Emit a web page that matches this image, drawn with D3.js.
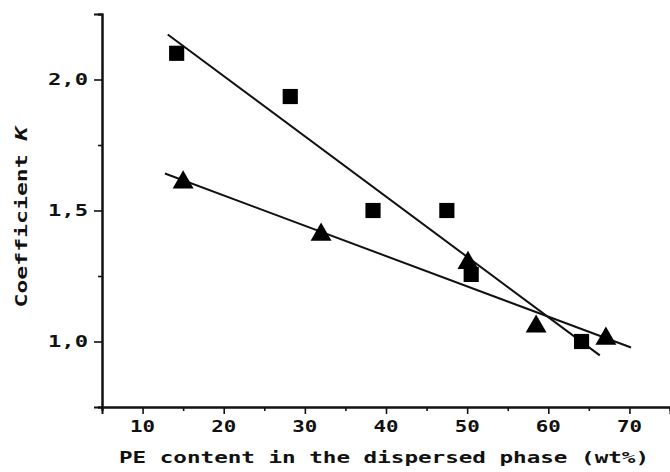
<!DOCTYPE html>
<html><head><meta charset="utf-8">
<script src="https://cdn.jsdelivr.net/npm/d3@7"></script>
<style>
html,body{margin:0;padding:0;background:#fff;}
svg{display:block;}
text{font-family:"DejaVu Sans Mono",monospace;font-weight:bold;fill:#111;}
</style></head>
<body>
<svg id="c" width="670" height="472"></svg>
<script>
// Data
const squareX = [14.2, 28.2, 38.4, 47.5, 50.5, 64.1];
const squareY = [2.10, 1.935, 1.50, 1.50, 1.256, 1.00];
const triangleX = [15.0, 32.0, 50.1, 58.5, 67.1];
const triangleY = [1.607, 1.408, 1.30, 1.057, 1.011];
const squareFitX = [13.1, 66.35];
const squareFitY = [2.172, 0.947];
const triangleFitX = [12.76, 70.2];
const triangleFitY = [1.641, 0.977];
const xMajorTicks = [10, 20, 30, 40, 50, 60, 70];
const xMinorTicks = [5, 15, 25, 35, 45, 55, 65, 75];
const yMajorTicks = [1.0, 1.5, 2.0];
const yTickLabels = ["1,0", "1,5", "2,0"];
const yMinorTicks = [0.75, 1.25, 1.75, 2.25];
const xTitle = "PE content in the dispersed phase (wt%)";

const svg = d3.select("#c");
const x = d3.scaleLinear().domain([5, 75]).range([102, 670]);
const y = d3.scaleLinear().domain([0.75, 2.25]).range([407, 14]);

// Axes
const gx = svg.append("g").attr("transform", `translate(0,${y(0.75)})`);
gx.call(d3.axisBottom(x).tickValues(xMajorTicks).tickSize(7).tickFormat(""));
gx.append("g").call(d3.axisBottom(x).tickValues(xMinorTicks).tickSize(4).tickFormat(""));
gx.selectAll("path.domain").attr("stroke", "#111").attr("stroke-width", 2);
gx.selectAll(".tick line").attr("stroke", "#111").attr("stroke-width", 1.6);

const gy = svg.append("g").attr("transform", `translate(${x(5)},0)`);
gy.call(d3.axisLeft(y).tickValues(yMajorTicks).tickSize(8).tickFormat(""));
gy.append("g").call(d3.axisLeft(y).tickValues(yMinorTicks).tickSize(4).tickFormat(""));
gy.selectAll("path.domain").attr("stroke", "#111").attr("stroke-width", 2);
gy.selectAll(".tick line").attr("stroke", "#111").attr("stroke-width", 1.6);

// Tick labels
svg.append("g").selectAll("text").data(xMajorTicks).join("text")
  .attr("x", d => x(d)).attr("y", 432)
  .attr("text-anchor", "middle")
  .attr("font-size", 15)
  .attr("textLength", 25).attr("lengthAdjust", "spacingAndGlyphs")
  .text(d => d);

svg.append("g").selectAll("text").data(yMajorTicks).join("text")
  .attr("x", 68).attr("y", d => y(d) + 5.5)
  .attr("text-anchor", "middle")
  .attr("font-size", 15)
  .attr("textLength", 40).attr("lengthAdjust", "spacingAndGlyphs")
  .text((d, i) => yTickLabels[i]);

// Axis titles
svg.append("text")
  .attr("x", 384).attr("y", 463)
  .attr("text-anchor", "middle")
  .attr("font-size", 16)
  .attr("textLength", 530).attr("lengthAdjust", "spacingAndGlyphs")
  .text(xTitle);

const yt = svg.append("text")
  .attr("transform", "translate(27,217) rotate(-90)")
  .attr("text-anchor", "middle")
  .attr("font-size", 16)
  .attr("textLength", 181).attr("lengthAdjust", "spacingAndGlyphs");
yt.append("tspan").text("Coefficient ");
yt.append("tspan").attr("font-style", "italic").text("K");

// Fit lines
const line = d3.line().x(d => x(d[0])).y(d => y(d[1]));
svg.append("path").attr("d", line(d3.zip(squareFitX, squareFitY)))
  .attr("fill", "none").attr("stroke", "#111").attr("stroke-width", 2);
svg.append("path").attr("d", line(d3.zip(triangleFitX, triangleFitY)))
  .attr("fill", "none").attr("stroke", "#111").attr("stroke-width", 2);

// Markers
const sq = d3.symbol().type(d3.symbolSquare).size(230);
svg.append("g").selectAll("path").data(d3.zip(squareX, squareY)).join("path")
  .attr("transform", d => `translate(${x(d[0])},${y(d[1])})`)
  .attr("d", sq).attr("fill", "#000");

const tri = d3.symbol().type(d3.symbolTriangle).size(190);
svg.append("g").selectAll("path").data(d3.zip(triangleX, triangleY)).join("path")
  .attr("transform", d => `translate(${x(d[0])},${y(d[1])})`)
  .attr("d", tri).attr("fill", "#000");
</script>
</body></html>
